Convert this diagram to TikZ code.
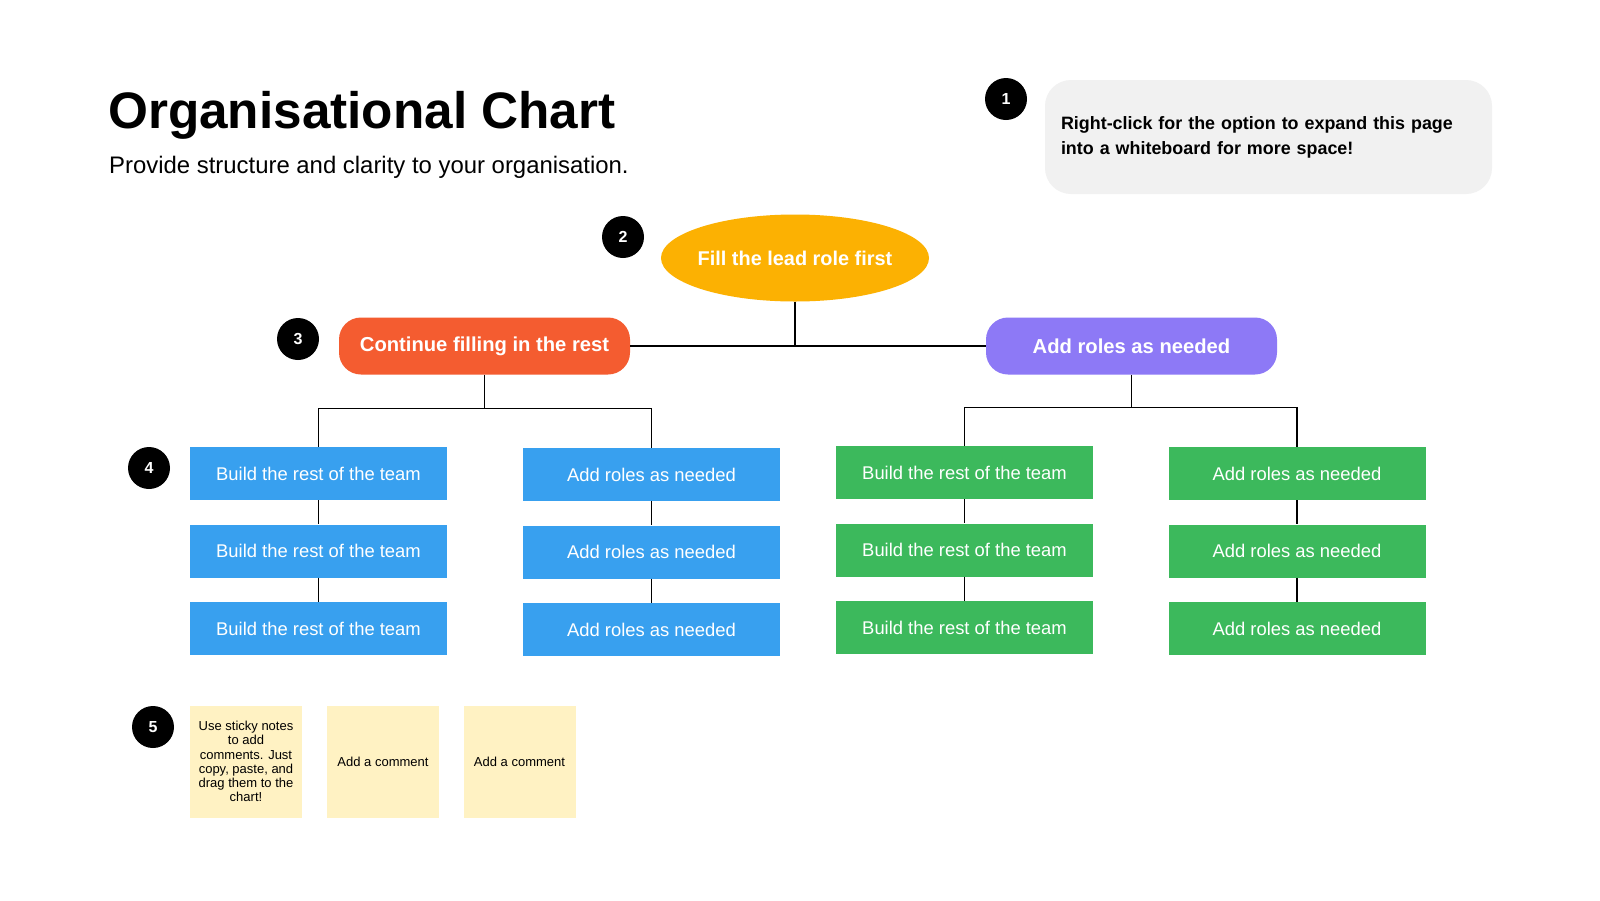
\documentclass[tikz,border=0pt]{standalone}
\usepackage{fontspec}
\setmainfont{Liberation Sans}
\usetikzlibrary{shapes.geometric}
\definecolor{cgold}{HTML}{FCB102}
\definecolor{cred}{HTML}{F45C30}
\definecolor{cpurple}{HTML}{8D79F6}
\definecolor{cblue}{HTML}{38A0EF}
\definecolor{cgreen}{HTML}{3CB95C}
\definecolor{csticky}{HTML}{FFF2C3}
\definecolor{cgray}{HTML}{F1F1F1}
\begin{document}
\begin{tikzpicture}[x=1pt,y=-1pt,
  badge/.style={circle, fill=black, minimum size=42, inner sep=0, text=white, font=\fontsize{16}{16}\selectfont\bfseries},
  bluebox/.style={fill=cblue, minimum width=257, minimum height=53, inner sep=0, text=white, font=\fontsize{18.4}{20}\selectfont},
  greenbox/.style={fill=cgreen, minimum width=257, minimum height=53, inner sep=0, text=white, font=\fontsize{18.4}{20}\selectfont},
  pill/.style={rounded corners=22, minimum width=291, minimum height=57, inner sep=0, text=white, font=\fontsize{20.2}{22}\selectfont\bfseries},
  sticky/.style={fill=csticky, minimum width=112, minimum height=112, inner sep=0, font=\fontsize{13}{14.3}\selectfont, align=center},
  link/.style={line width=1.3pt, draw=black}]
\useasboundingbox[fill=white] (0,0) rectangle (1600,900);

% title
\node[anchor=base west, inner sep=0, font=\fontsize{51.3}{56}\selectfont\bfseries] (title) at (108,128) {Organisational Chart};
\node[anchor=base west, inner sep=0, font=\fontsize{23.9}{26}\selectfont] (subtitle) at (109,173) {Provide structure and clarity to your organisation.};

% info box
\node[fill=cgray, rounded corners=26, minimum width=447, minimum height=114, inner xsep=16, inner ysep=0, text width=415, align=left, font=\fontsize{17.9}{25}\selectfont\bfseries] (info) at (1268.5,137) {Right-click for the option to expand this page\\into a whiteboard for more space!};

% badges
\node[badge] (n1) at (1006,99) {1};
\node[badge] (n2) at (623,237) {2};
\node[badge] (n3) at (298,339) {3};
\node[badge] (n4) at (149,468) {4};
\node[badge] (n5) at (153,727) {5};

% lead and second level
\node[ellipse, fill=cgold, minimum width=268, minimum height=87, inner xsep=-3pt, inner ysep=0, text=white, font=\fontsize{19.9}{22}\selectfont\bfseries] (lead) at (795,258) {Fill the lead role first};
\node[pill, fill=cred] (cont) at (484.5,346) {Continue filling in the rest};
\node[pill, fill=cpurple] (addr) at (1131.5,346) {Add roles as needed};

% blue columns
\node[bluebox] (b11) at (318.5,473.5) {Build the rest of the team};
\node[bluebox] (b12) at (318.5,551) {Build the rest of the team};
\node[bluebox] (b13) at (318.5,628.5) {Build the rest of the team};
\node[bluebox] (b21) at (651.5,474.5) {Add roles as needed};
\node[bluebox] (b22) at (651.5,552) {Add roles as needed};
\node[bluebox] (b23) at (651.5,629.5) {Add roles as needed};

% green columns
\node[greenbox] (g11) at (964.5,472.5) {Build the rest of the team};
\node[greenbox] (g12) at (964.5,550) {Build the rest of the team};
\node[greenbox] (g13) at (964.5,627.5) {Build the rest of the team};
\node[greenbox] (g21) at (1297,473.5) {Add roles as needed};
\node[greenbox] (g22) at (1297,551) {Add roles as needed};
\node[greenbox] (g23) at (1297,628.5) {Add roles as needed};

% sticky notes
\node[sticky] (s1) at (246,761.5) {Use sticky notes\\to add\\comments. Just\\copy, paste, and\\drag them to the\\chart!};
\node[sticky] (s2) at (383,761.5) {Add a comment};
\node[sticky] (s3) at (519.5,761.5) {Add a comment};

% connectors
\draw[link] (lead.south) -- (lead.south |- cont.east);
\draw[link] (cont.east) -- (addr.west);
\draw[link] (cont.south) -- ++(0,34) coordinate (jL);
\draw[link] (b11.north) |- (jL) -| (b21.north);
\draw[link] (addr.south) -- ++(0,33) coordinate (jR);
\draw[link] (g11.north) |- (jR) -| (g21.north);
\draw[link] (b11.south) -- (b12.north);
\draw[link] (b12.south) -- (b13.north);
\draw[link] (b21.south) -- (b22.north);
\draw[link] (b22.south) -- (b23.north);
\draw[link] (g11.south) -- (g12.north);
\draw[link] (g12.south) -- (g13.north);
\draw[link] (g21.south) -- (g22.north);
\draw[link] (g22.south) -- (g23.north);
\end{tikzpicture}
\end{document}
